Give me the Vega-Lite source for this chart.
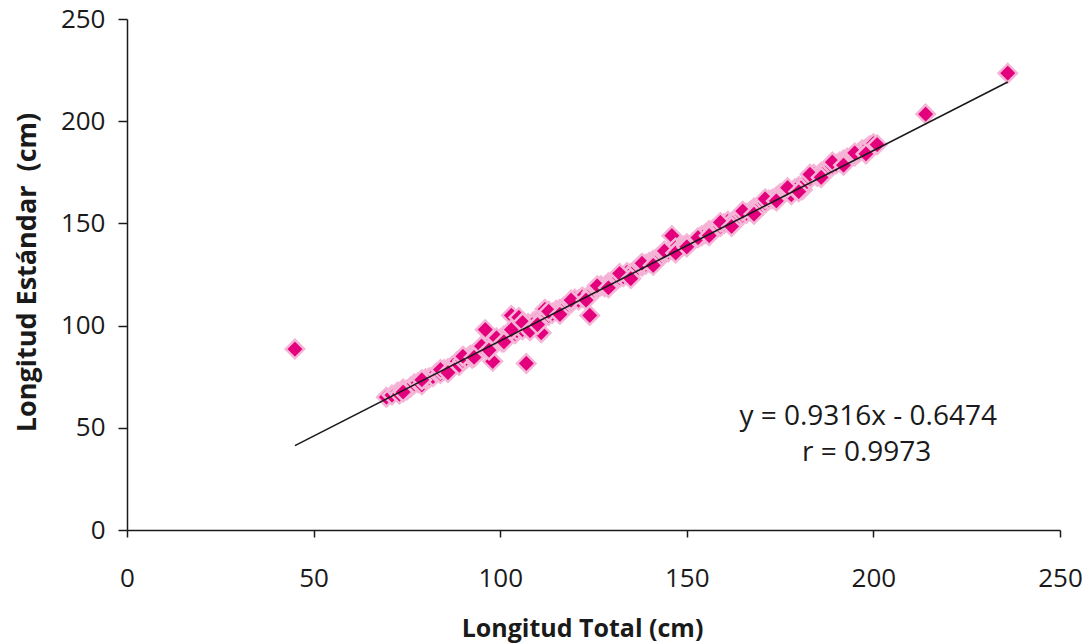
{
  "$schema": "https://vega.github.io/schema/vega-lite/v6.json",
  "width": 933,
  "height": 511,
  "autosize": {"type": "none"},
  "padding": {"left": 127, "top": 19, "right": 30, "bottom": 113},
  "background": "white",
  "config": {
    "view": {"stroke": null},
    "font": "Open Sans",
    "axis": {"grid": false, "domainColor": "#1a1a1a", "tickColor": "#1a1a1a", "domainWidth": 1.5, "tickWidth": 1.5, "labelColor": "#1a1a1a", "titleColor": "#1a1a1a", "labelFont": "Open Sans", "titleFont": "Open Sans", "labelFontSize": 26, "titleFontSize": 25, "titleFontWeight": "bold"}
  },
  "datasets": {
    "pts": [
      {"lt": 45, "ls": 88.5}, {"lt": 69.5, "ls": 65}, {"lt": 71, "ls": 66}, {"lt": 72.5, "ls": 67.5}, {"lt": 73, "ls": 66.5},
      {"lt": 74, "ls": 69}, {"lt": 75, "ls": 68.5}, {"lt": 76, "ls": 70}, {"lt": 77, "ls": 71.5}, {"lt": 78, "ls": 72},
      {"lt": 79, "ls": 71}, {"lt": 80, "ls": 74}, {"lt": 81, "ls": 74.5}, {"lt": 82, "ls": 75}, {"lt": 83, "ls": 77},
      {"lt": 84, "ls": 76.5}, {"lt": 85, "ls": 78.5}, {"lt": 86, "ls": 79}, {"lt": 87, "ls": 80}, {"lt": 88, "ls": 81},
      {"lt": 88.5, "ls": 82.5}, {"lt": 89, "ls": 80.5}, {"lt": 90, "ls": 83}, {"lt": 91, "ls": 84}, {"lt": 92, "ls": 85.5},
      {"lt": 92.5, "ls": 84}, {"lt": 93, "ls": 86.5}, {"lt": 94, "ls": 87}, {"lt": 95, "ls": 88}, {"lt": 96, "ls": 98},
      {"lt": 96.5, "ls": 89}, {"lt": 97, "ls": 90.5}, {"lt": 98, "ls": 82.5}, {"lt": 98.5, "ls": 91}, {"lt": 99, "ls": 92},
      {"lt": 100, "ls": 93.5}, {"lt": 100.5, "ls": 92}, {"lt": 101, "ls": 95}, {"lt": 102, "ls": 94}, {"lt": 102.5, "ls": 96.5},
      {"lt": 103, "ls": 105}, {"lt": 104, "ls": 96}, {"lt": 104.5, "ls": 97.5}, {"lt": 105, "ls": 104}, {"lt": 105.5, "ls": 99},
      {"lt": 106, "ls": 98}, {"lt": 107, "ls": 81.5}, {"lt": 107.5, "ls": 101}, {"lt": 108, "ls": 100}, {"lt": 109, "ls": 102},
      {"lt": 110, "ls": 103}, {"lt": 111, "ls": 96.5}, {"lt": 111.5, "ls": 104}, {"lt": 112, "ls": 108}, {"lt": 113, "ls": 105},
      {"lt": 114, "ls": 106}, {"lt": 115, "ls": 107.5}, {"lt": 116, "ls": 108}, {"lt": 117, "ls": 109}, {"lt": 118, "ls": 110},
      {"lt": 119, "ls": 111}, {"lt": 120, "ls": 113}, {"lt": 121, "ls": 112.5}, {"lt": 122, "ls": 114}, {"lt": 124, "ls": 105},
      {"lt": 124.5, "ls": 116}, {"lt": 125, "ls": 117}, {"lt": 126, "ls": 118}, {"lt": 127, "ls": 119.5}, {"lt": 128, "ls": 119},
      {"lt": 129, "ls": 121}, {"lt": 130, "ls": 121.5}, {"lt": 131, "ls": 122}, {"lt": 132, "ls": 123.5}, {"lt": 133, "ls": 124},
      {"lt": 134, "ls": 126}, {"lt": 135, "ls": 125.5}, {"lt": 136, "ls": 127}, {"lt": 137, "ls": 128.5}, {"lt": 138, "ls": 129},
      {"lt": 139, "ls": 130}, {"lt": 140, "ls": 131}, {"lt": 141, "ls": 132}, {"lt": 142, "ls": 133}, {"lt": 143, "ls": 133.5},
      {"lt": 144, "ls": 135}, {"lt": 145, "ls": 136}, {"lt": 146, "ls": 144}, {"lt": 146.5, "ls": 137}, {"lt": 147, "ls": 138},
      {"lt": 148, "ls": 137.5}, {"lt": 149, "ls": 139}, {"lt": 150, "ls": 140}, {"lt": 154, "ls": 144}, {"lt": 155, "ls": 145},
      {"lt": 156, "ls": 146.5}, {"lt": 157, "ls": 147}, {"lt": 158, "ls": 148}, {"lt": 159, "ls": 148.5}, {"lt": 160, "ls": 150},
      {"lt": 161, "ls": 151}, {"lt": 162, "ls": 150.5}, {"lt": 163, "ls": 152}, {"lt": 164, "ls": 153.5}, {"lt": 165, "ls": 154},
      {"lt": 166, "ls": 155}, {"lt": 167, "ls": 156}, {"lt": 168, "ls": 157.5}, {"lt": 169, "ls": 158}, {"lt": 170, "ls": 159},
      {"lt": 171, "ls": 160}, {"lt": 172, "ls": 161.5}, {"lt": 173, "ls": 162}, {"lt": 174, "ls": 163}, {"lt": 175, "ls": 164.5},
      {"lt": 176, "ls": 165}, {"lt": 177, "ls": 166}, {"lt": 178, "ls": 164}, {"lt": 179, "ls": 167}, {"lt": 180, "ls": 168},
      {"lt": 181, "ls": 166.5}, {"lt": 182, "ls": 170}, {"lt": 183, "ls": 172}, {"lt": 184, "ls": 174}, {"lt": 185, "ls": 173},
      {"lt": 186, "ls": 175}, {"lt": 187, "ls": 176}, {"lt": 188, "ls": 177}, {"lt": 189, "ls": 178}, {"lt": 190, "ls": 179},
      {"lt": 191, "ls": 180}, {"lt": 192, "ls": 181}, {"lt": 193, "ls": 182}, {"lt": 194, "ls": 182.5}, {"lt": 195, "ls": 183},
      {"lt": 196, "ls": 184.5}, {"lt": 197, "ls": 186}, {"lt": 198, "ls": 186.5}, {"lt": 199, "ls": 188}, {"lt": 200, "ls": 189},
      {"lt": 201, "ls": 188.5}, {"lt": 214, "ls": 203.5}, {"lt": 236, "ls": 223.5},
      {"lt": 74, "ls": 67.5}, {"lt": 79, "ls": 73.5}, {"lt": 84, "ls": 78.5}, {"lt": 86, "ls": 77}, {"lt": 90, "ls": 85},
      {"lt": 93, "ls": 84.5}, {"lt": 95, "ls": 90}, {"lt": 97, "ls": 88}, {"lt": 99, "ls": 94}, {"lt": 101, "ls": 92},
      {"lt": 103, "ls": 98}, {"lt": 106, "ls": 101.5}, {"lt": 108, "ls": 97.5}, {"lt": 110, "ls": 100.5}, {"lt": 113, "ls": 107},
      {"lt": 116, "ls": 105.5}, {"lt": 119, "ls": 112.5}, {"lt": 123, "ls": 112.5}, {"lt": 126, "ls": 119.5}, {"lt": 129, "ls": 118.5},
      {"lt": 132, "ls": 125.5}, {"lt": 135, "ls": 123}, {"lt": 138, "ls": 130.5}, {"lt": 141, "ls": 129.5}, {"lt": 144, "ls": 136.5},
      {"lt": 147, "ls": 135.5}, {"lt": 150, "ls": 138.5}, {"lt": 153, "ls": 143}, {"lt": 156, "ls": 144}, {"lt": 159, "ls": 150.5},
      {"lt": 162, "ls": 148.5}, {"lt": 165, "ls": 156}, {"lt": 168, "ls": 154.5}, {"lt": 171, "ls": 162}, {"lt": 174, "ls": 161},
      {"lt": 177, "ls": 167.5}, {"lt": 180, "ls": 165.5}, {"lt": 183, "ls": 174}, {"lt": 186, "ls": 172.5}, {"lt": 189, "ls": 180},
      {"lt": 192, "ls": 178.5}, {"lt": 195, "ls": 184.5}, {"lt": 198, "ls": 184}
    ],
    "fit": [
      {"lt": 45, "ls": 41.27},
      {"lt": 236, "ls": 219.21}
    ],
    "notes": [
      {"lt": 198.6, "ls": 55.3, "label": "y = 0.9316x - 0.6474"},
      {"lt": 198.2, "ls": 37.7, "label": "r = 0.9973"}
    ]
  },
  "layer": [
    {
      "data": {"name": "pts"},
      "mark": {"type": "point", "shape": "diamond", "filled": true, "size": 340, "fill": "#E4007C", "stroke": "#F5B5D7", "strokeWidth": 2.5, "opacity": 1},
      "encoding": {
        "x": {"field": "lt", "type": "quantitative", "scale": {"domain": [0, 250], "nice": false, "zero": true},
          "axis": {"title": "Longitud Total (cm)", "values": [0, 50, 100, 150, 200, 250], "tickSize": 7, "labelPadding": 41, "labelBaseline": "middle", "titleX": 455, "titleY": 98, "titleAlign": "center", "titleBaseline": "middle", "labelFlush": false, "labelOverlap": false}},
        "y": {"field": "ls", "type": "quantitative", "scale": {"domain": [0, 250], "nice": false, "zero": true},
          "axis": {"title": "Longitud Estándar\u00a0 (cm)", "titleFontSize": 27, "values": [0, 50, 100, 150, 200, 250], "tickSize": 9, "labelPadding": 13, "labelBaseline": "middle", "titleAngle": -90, "titleX": -100, "titleY": 253, "titleAlign": "center", "titleBaseline": "middle", "labelFlush": false, "labelOverlap": false}}
      }
    },
    {
      "data": {"name": "fit"},
      "mark": {"type": "line", "color": "#1a1a1a", "strokeWidth": 1.6},
      "encoding": {
        "x": {"field": "lt", "type": "quantitative"},
        "y": {"field": "ls", "type": "quantitative"}
      }
    },
    {
      "data": {"name": "notes"},
      "mark": {"type": "text", "font": "Open Sans", "fontSize": 28, "color": "#1a1a1a", "align": "center", "baseline": "middle"},
      "encoding": {
        "x": {"field": "lt", "type": "quantitative"},
        "y": {"field": "ls", "type": "quantitative"},
        "text": {"field": "label"}
      }
    }
  ]
}
